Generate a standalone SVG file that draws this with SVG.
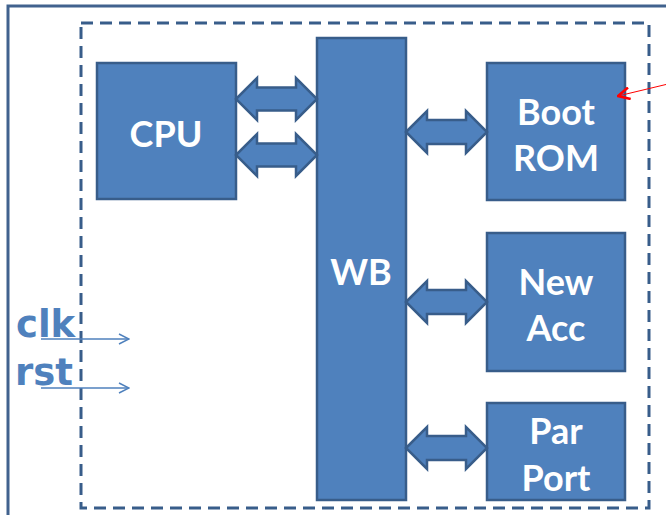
<svg xmlns="http://www.w3.org/2000/svg" width="666" height="515" viewBox="0 0 666 515">
<style>
.box{fill:#4f81bd;stroke:#385d8a;stroke-width:2.5}
.lbl{font-family:Lato,"Liberation Sans",sans-serif;font-weight:bold;font-size:36px;fill:#fff;text-anchor:middle}
.arr{fill:#4f81bd;stroke:#385d8a;stroke-width:2.5;stroke-linejoin:miter}
.sig{font-family:"DejaVu Sans",sans-serif;font-weight:bold;font-size:37px;fill:#4f81bd}
</style>
<defs>
<marker id="chev" viewBox="0 0 12 12" refX="11" refY="6" markerWidth="12" markerHeight="12" markerUnits="userSpaceOnUse" orient="auto">
<path d="M1,1 L11,6 L1,11" fill="none" stroke="#4f81bd" stroke-width="1.5"/>
</marker>
<marker id="red" viewBox="0 0 12 12" refX="11" refY="6" markerWidth="14" markerHeight="14" markerUnits="userSpaceOnUse" orient="auto">
<path d="M1,1 L11,6 L1,11" fill="none" stroke="#ff0000" stroke-width="2.2"/>
</marker>
</defs>
<rect x="8" y="6" width="680" height="530" fill="none" stroke="#41628e" stroke-width="3"/>
<rect x="81" y="23" width="568" height="485" fill="none" stroke="#385d8a" stroke-width="3" stroke-dasharray="12 7"/>
<g id="cpu"><rect class="box" x="97" y="63" width="139" height="136"/><text class="lbl" x="166" y="147">CPU</text></g>
<g id="wb"><rect class="box" x="317" y="38" width="89" height="462"/><text class="lbl" x="361" y="285">WB</text></g>
<g id="bootrom"><rect class="box" x="487" y="63" width="138" height="137"/><text class="lbl" x="556" y="125">Boot</text><text class="lbl" x="556" y="171">ROM</text></g>
<g id="newacc"><rect class="box" x="487" y="233" width="138" height="138"/><text class="lbl" x="556" y="295">New</text><text class="lbl" x="556" y="341">Acc</text></g>
<g id="parport"><rect class="box" x="487" y="403" width="138" height="97"/><text class="lbl" x="556" y="444">Par</text><text class="lbl" x="556" y="491">Port</text></g>
<g id="connectors">
<path class="arr" d="M236,99 L257,78 L257,87.5 L296,87.5 L296,78 L317,99 L296,120 L296,110.5 L257,110.5 L257,120 Z"/>
<path class="arr" d="M236,155 L257,134 L257,143.5 L296,143.5 L296,134 L317,155 L296,176 L296,166.5 L257,166.5 L257,176 Z"/>
<path class="arr" d="M406,132 L427,111 L427,120 L466,120 L466,111 L487,132 L466,153 L466,144 L427,144 L427,153 Z"/>
<path class="arr" d="M406,302 L427,281 L427,290 L466,290 L466,281 L487,302 L466,323 L466,314 L427,314 L427,323 Z"/>
<path class="arr" d="M406,448 L427,427 L427,436 L466,436 L466,427 L487,448 L466,469 L466,460 L427,460 L427,469 Z"/>
<line x1="41" y1="339" x2="129" y2="339" stroke="#4f81bd" stroke-width="1.5" marker-end="url(#chev)"/>
<line x1="41" y1="388" x2="129" y2="388" stroke="#4f81bd" stroke-width="1.5" marker-end="url(#chev)"/>
<line x1="668" y1="84" x2="618" y2="96" stroke="#ff0000" stroke-width="1" marker-end="url(#red)"/>
</g>
<text class="sig" x="16" y="337">clk</text>
<text class="sig" x="15" y="385">rst</text>
</svg>
